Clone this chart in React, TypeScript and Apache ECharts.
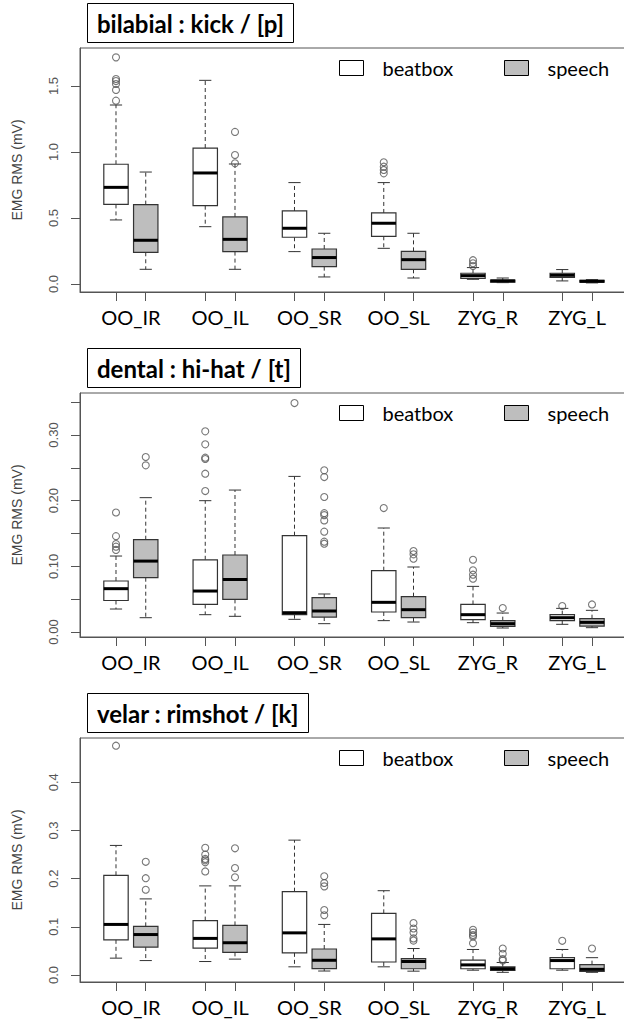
import React, { useEffect, useRef } from "react";
import * as echarts from "echarts";

const categories = ["OO_IR", "OO_IL", "OO_SR", "OO_SL", "ZYG_R", "ZYG_L"];
const groupNames = ["beatbox", "speech"];
const panelTitles = ["bilabial : kick / [p]", "dental : hi-hat / [t]", "velar : rimshot / [k]"];

// stats per category: [lower whisker, Q1, median, Q3, upper whisker]
const kickBeatbox = [
  [0.485, 0.603, 0.732, 0.907, 1.356],
  [0.434, 0.593, 0.841, 1.03, 1.543],
  [0.245, 0.354, 0.422, 0.553, 0.768],
  [0.27, 0.361, 0.46, 0.538, 0.768],
  [0.035, 0.043, 0.063, 0.081, 0.124],
  [0.023, 0.05, 0.066, 0.081, 0.109],
];
const kickSpeech = [
  [0.111, 0.24, 0.331, 0.601, 0.848],
  [0.111, 0.245, 0.338, 0.508, 0.909],
  [0.053, 0.131, 0.2, 0.265, 0.384],
  [0.045, 0.111, 0.184, 0.247, 0.384],
  [0.01, 0.013, 0.023, 0.03, 0.045],
  [0.008, 0.013, 0.02, 0.028, 0.033],
];
const kickBeatboxOut = [
  [1.717, 1.553, 1.538, 1.515, 1.47, 1.389],
  [],
  [],
  [0.922, 0.889, 0.864, 0.838],
  [0.18, 0.157, 0.136],
  [],
];
const kickSpeechOut = [[], [1.152, 0.977, 0.914], [], [], [], []];

const hihatBeatbox = [
  [0.035, 0.048, 0.066, 0.0777, 0.1157],
  [0.0264, 0.042, 0.0624, 0.11, 0.2],
  [0.0193, 0.0264, 0.0294, 0.1467, 0.237],
  [0.0173, 0.0305, 0.0452, 0.0934, 0.1584],
  [0.0142, 0.0188, 0.0264, 0.042, 0.0695],
  [0.0117, 0.0173, 0.0218, 0.0264, 0.036],
];
const hihatSpeech = [
  [0.0218, 0.0827, 0.108, 0.1406, 0.2046],
  [0.0239, 0.0497, 0.08, 0.1173, 0.2162],
  [0.0127, 0.0228, 0.032, 0.0523, 0.0579],
  [0.0152, 0.0218, 0.034, 0.0538, 0.099],
  [0.0061, 0.0086, 0.0127, 0.0173, 0.0289],
  [0.0066, 0.0091, 0.0147, 0.0203, 0.033],
];
const hihatBeatboxOut = [
  [0.182, 0.146, 0.134, 0.13, 0.125],
  [0.3056, 0.2858, 0.2655, 0.2635, 0.2411, 0.2147],
  [0.3487],
  [0.1888],
  [0.11, 0.0939, 0.0873, 0.0812],
  [0.0396],
];
const hihatSpeechOut = [
  [0.2665, 0.2538],
  [],
  [0.2462, 0.236, 0.2056, 0.181, 0.178, 0.17, 0.1528, 0.1376, 0.1345],
  [0.1234, 0.1183, 0.1117],
  [0.0365],
  [0.042],
];

const rimBeatbox = [
  [0.035, 0.073, 0.105, 0.207, 0.269],
  [0.028, 0.056, 0.076, 0.113, 0.185],
  [0.017, 0.046, 0.0875, 0.173, 0.28],
  [0.017, 0.027, 0.075, 0.128, 0.175],
  [0.01, 0.013, 0.021, 0.031, 0.053],
  [0.01, 0.013, 0.03, 0.036, 0.053],
];
const rimSpeech = [
  [0.03, 0.058, 0.084, 0.101, 0.158],
  [0.033, 0.047, 0.067, 0.103, 0.185],
  [0.0083, 0.0132, 0.0306, 0.054, 0.105],
  [0.008, 0.013, 0.028, 0.034, 0.055],
  [0.0056, 0.0097, 0.013, 0.017, 0.026],
  [0.0056, 0.0076, 0.0118, 0.0215, 0.036],
];
const rimBeatboxOut = [
  [0.476],
  [0.264, 0.25, 0.241, 0.238, 0.234, 0.215],
  [],
  [],
  [0.094, 0.088, 0.083, 0.08, 0.066],
  [0.071],
];
const rimSpeechOut = [
  [0.235, 0.201, 0.177],
  [0.263, 0.222, 0.203],
  [0.205, 0.191, 0.184, 0.135, 0.124],
  [0.108, 0.0965, 0.088, 0.076, 0.0715],
  [0.055, 0.044, 0.033, 0.03],
  [0.055],
];

// y axis ranges and ticks
const yMins = [-0.061, -0.0076, -0.0145];
const yMaxs = [1.788, 0.364, 0.492];
const yTicks = [
  [0, 0.5, 1.0, 1.5],
  [0, 0.05, 0.1, 0.15, 0.2, 0.25, 0.3, 0.35],
  [0, 0.1, 0.2, 0.3, 0.4],
];
const yLabels = [
  [0, 0.5, 1.0, 1.5],
  [0, 0.1, 0.2, 0.3],
  [0, 0.1, 0.2, 0.3, 0.4],
];
const yDecimals = [1, 2, 1];

const panelStats = [
  [kickBeatbox, kickSpeech],
  [hihatBeatbox, hihatSpeech],
  [rimBeatbox, rimSpeech],
];
const panelOutliers = [
  [kickBeatboxOut, kickSpeechOut],
  [hihatBeatboxOut, hihatSpeechOut],
  [rimBeatboxOut, rimSpeechOut],
];

const FILLS = ["#ffffff", "#bebebe"];
const PANEL_STEP = 345;
const BOX_W = 0.82;

function xPos(catIdx: number, g: number) {
  return catIdx * 3 + 1 + g;
}

function renderBox(fill: string) {
  return (params: any, api: any) => {
    const x = api.value(0);
    const pLow = api.coord([x, api.value(1)]);
    const pQ1 = api.coord([x, api.value(2)]);
    const pMed = api.coord([x, api.value(3)]);
    const pQ3 = api.coord([x, api.value(4)]);
    const pHigh = api.coord([x, api.value(5)]);
    const hw = api.size([BOX_W, 0])[0] / 2;
    const cx = pMed[0];
    const wStyle = { stroke: "#333", lineWidth: 1, lineDash: [4, 3] };
    const cStyle = { stroke: "#333", lineWidth: 1 };
    return {
      type: "group",
      children: [
        { type: "line", shape: { x1: cx, y1: pQ3[1], x2: cx, y2: pHigh[1] }, style: wStyle },
        { type: "line", shape: { x1: cx, y1: pQ1[1], x2: cx, y2: pLow[1] }, style: wStyle },
        { type: "line", shape: { x1: cx - hw / 2, y1: pHigh[1], x2: cx + hw / 2, y2: pHigh[1] }, style: cStyle },
        { type: "line", shape: { x1: cx - hw / 2, y1: pLow[1], x2: cx + hw / 2, y2: pLow[1] }, style: cStyle },
        {
          type: "rect",
          shape: { x: cx - hw, y: pQ3[1], width: hw * 2, height: pQ1[1] - pQ3[1] },
          style: { fill, stroke: "#333", lineWidth: 1.2 },
        },
        {
          type: "line",
          shape: { x1: cx - hw, y1: pMed[1], x2: cx + hw, y2: pMed[1] },
          style: { stroke: "#000", lineWidth: 3 },
        },
      ],
    };
  };
}

export default function App() {
  const ref = useRef<HTMLDivElement>(null);
  useEffect(() => {
    if (!ref.current) return;
    const chart = echarts.init(ref.current, null, { renderer: "svg" });
    const grids: any[] = [];
    const xAxes: any[] = [];
    const yAxes: any[] = [];
    const series: any[] = [];
    const titles: any[] = [];
    const legends: any[] = [];
    const tickPositions: number[] = [];
    const labelPositions: number[] = [];
    categories.forEach((_, i) => {
      tickPositions.push(xPos(i, 0), xPos(i, 1));
      labelPositions.push(xPos(i, 0) + 0.5);
    });

    for (let k = 0; k < 3; k++) {
      const top = 48 + PANEL_STEP * k;
      grids.push({
        left: 80,
        top,
        width: 548,
        height: 244,
        show: true,
        borderColor: "#555",
        borderWidth: 1,
        backgroundColor: "transparent",
        containLabel: false,
        outerBoundsMode: "none",
      });
      xAxes.push({
        gridIndex: k,
        type: "value",
        min: -0.21,
        max: 18.21,
        splitLine: { show: false },
        axisLine: { show: true, onZero: false, lineStyle: { color: "#555" } },
        axisTick: { show: true, customValues: tickPositions, length: 9, lineStyle: { color: "#555" } },
        axisLabel: {
          customValues: labelPositions,
          formatter: (v: number) => categories[Math.round((v - 1.5) / 3)] ?? "",
          margin: 15,
          fontFamily: "Lato",
          fontSize: 20,
          color: "#000",
        },
      });
      const dec = yDecimals[k];
      yAxes.push({
        gridIndex: k,
        type: "value",
        min: yMins[k],
        max: yMaxs[k],
        splitLine: { show: false },
        axisLine: { show: true, onZero: false, lineStyle: { color: "#555" } },
        axisTick: { show: true, customValues: yTicks[k], length: 9, lineStyle: { color: "#555" } },
        axisLabel: {
          customValues: yLabels[k],
          formatter: (v: number) => v.toFixed(dec),
          rotate: 90,
          margin: 20,
          fontFamily: "Liberation Sans",
          fontSize: 13,
          color: "#555",
        },
        name: "EMG RMS (mV)",
        nameLocation: "middle",
        nameRotate: 90,
        nameGap: 56,
        nameTextStyle: { fontFamily: "Liberation Sans", fontSize: 14, color: "#444" },
      });
      titles.push({
        text: panelTitles[k],
        left: 87,
        top: 3 + PANEL_STEP * k,
        padding: [6, 10, 6, 10],
        borderColor: "#000",
        borderWidth: 1,
        textStyle: { fontFamily: "Lato", fontWeight: "bold", fontSize: 24, lineHeight: 28, color: "#000" },
      });
      groupNames.forEach((g, gi) => {
        legends.push({
          left: gi === 0 ? 339 : 504,
          top: 58 + PANEL_STEP * k,
          padding: 0,
          selectedMode: false,
          itemWidth: 24,
          itemHeight: 15,
          data: [
            {
              name: g,
              icon: "rect",
              itemStyle: { color: FILLS[gi], borderColor: "#000", borderWidth: 1 },
            },
          ],
          textStyle: { fontFamily: "Lato", fontSize: 20, color: "#000", padding: [0, 0, 0, 14] },
        });
        const stats = panelStats[k][gi];
        series.push({
          type: "custom",
          name: g,
          xAxisIndex: k,
          yAxisIndex: k,
          itemStyle: { color: FILLS[gi], borderColor: "#000" },
          encode: { x: 0, y: [1, 2, 3, 4, 5] },
          data: stats.map((s, i) => [xPos(i, gi), ...s]),
          renderItem: renderBox(FILLS[gi]),
          z: 3,
        });
        const outs: number[][] = [];
        panelOutliers[k][gi].forEach((arr, i) => {
          arr.forEach((v) => outs.push([xPos(i, gi), v]));
        });
        series.push({
          type: "scatter",
          name: g + " outliers",
          xAxisIndex: k,
          yAxisIndex: k,
          symbol: "circle",
          symbolSize: 7,
          itemStyle: { color: "rgba(0,0,0,0)", borderColor: "#555", borderWidth: 1.1 },
          data: outs,
          z: 4,
        });
      });
    }

    chart.setOption({
      animation: false,
      backgroundColor: "#fff",
      title: titles,
      legend: legends,
      grid: grids,
      xAxis: xAxes,
      yAxis: yAxes,
      series,
    });
    return () => chart.dispose();
  }, []);
  return (
    <div
      ref={ref}
      style={{ position: "absolute", left: 0, top: 0, width: 624, height: 1022 }}
    />
  );
}
